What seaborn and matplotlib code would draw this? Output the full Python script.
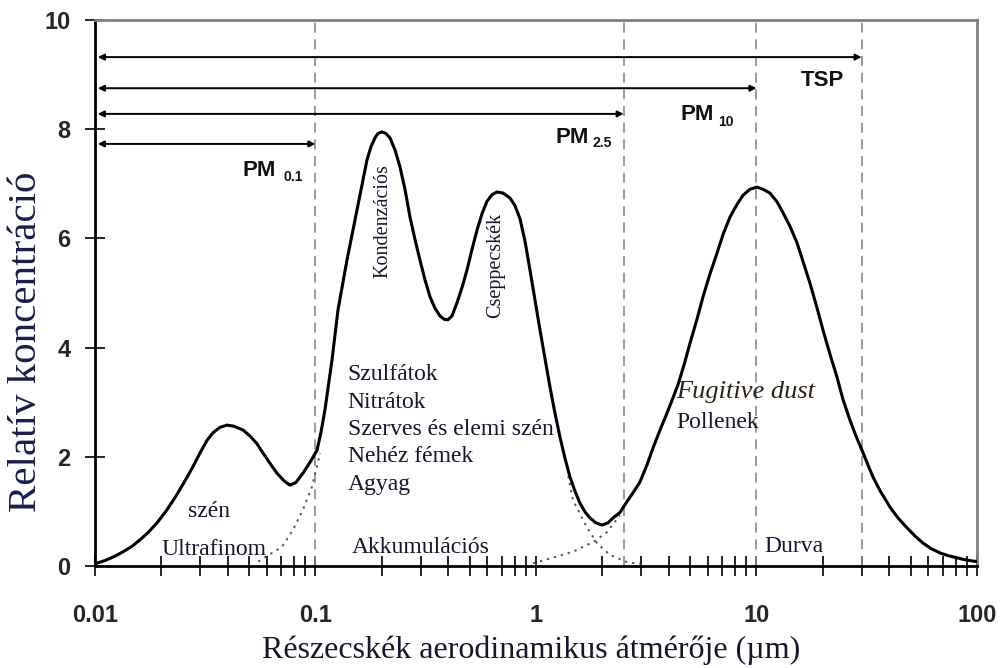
import numpy as np
import pandas as pd
import matplotlib
matplotlib.use("Agg")
import matplotlib.pyplot as plt
import seaborn as sns
from matplotlib.ticker import LogLocator, NullFormatter

# total size distribution (diameter in um, relative concentration)
diameter = [0.0100, 0.01110, 0.01232, 0.01340, 0.01472, 0.01600, 0.01739, 0.01911, 0.02121, 0.02354,
            0.02560, 0.02782, 0.02994, 0.03221, 0.03428, 0.03689, 0.03969, 0.04270, 0.04690, 0.05046,
            0.05428, 0.05779, 0.06218, 0.06689, 0.07197, 0.07661, 0.08155, 0.08775, 0.09443, 0.1016,
            0.1059, 0.1104, 0.1188, 0.1265, 0.1389, 0.1542, 0.1713, 0.1785, 0.1861, 0.1920,
            0.2002, 0.2088, 0.2177, 0.2294, 0.2416, 0.2546, 0.2683, 0.2827, 0.2978, 0.3138,
            0.3307, 0.3483, 0.3669, 0.3826, 0.3990, 0.4159, 0.4383, 0.4618, 0.4866, 0.5127,
            0.5401, 0.5690, 0.5995, 0.6317, 0.6654, 0.7084, 0.7622, 0.8030, 0.8462, 0.8916,
            0.9393, 0.9896, 1.043, 1.098, 1.157, 1.219, 1.285, 1.354, 1.426, 1.503,
            1.583, 1.668, 1.758, 1.871, 1.992, 2.121, 2.235, 2.404, 2.586, 2.754,
            2.963, 3.187, 3.393, 3.651, 3.928, 4.182, 4.406, 4.691, 4.994, 5.373,
            5.721, 6.154, 6.622, 7.050, 7.583, 8.158, 8.687, 9.344, 10.05, 10.70,
            11.51, 12.39, 13.19, 14.19, 15.27, 16.25, 17.48, 18.81, 20.03, 21.54,
            23.18, 24.68, 26.55, 28.27, 30.10, 32.04, 33.76, 36.32, 40.31, 43.83,
            48.14, 52.34, 56.90, 61.86, 67.96, 73.88, 81.17, 89.16, 100.0]
concentration = [0.04, 0.10, 0.18, 0.26, 0.36, 0.48, 0.61, 0.79, 1.03, 1.31,
                 1.56, 1.82, 2.07, 2.30, 2.44, 2.54, 2.58, 2.56, 2.49, 2.38,
                 2.24, 2.07, 1.88, 1.70, 1.56, 1.48, 1.53, 1.70, 1.90, 2.12,
                 2.45, 2.86, 3.77, 4.69, 5.60, 6.52, 7.44, 7.68, 7.84, 7.92,
                 7.95, 7.92, 7.84, 7.62, 7.31, 6.90, 6.39, 5.98, 5.60, 5.24,
                 4.93, 4.72, 4.58, 4.52, 4.51, 4.58, 4.82, 5.10, 5.42, 5.80,
                 6.15, 6.45, 6.68, 6.80, 6.85, 6.83, 6.74, 6.60, 6.36, 5.95,
                 5.42, 4.87, 4.32, 3.80, 3.28, 2.80, 2.36, 1.97, 1.63, 1.37,
                 1.15, 0.99, 0.88, 0.79, 0.75, 0.79, 0.88, 0.98, 1.18, 1.34,
                 1.54, 1.85, 2.16, 2.49, 2.80, 3.08, 3.32, 3.68, 4.08, 4.52,
                 4.93, 5.35, 5.73, 6.07, 6.39, 6.62, 6.79, 6.90, 6.94, 6.90,
                 6.83, 6.67, 6.47, 6.22, 5.92, 5.58, 5.18, 4.73, 4.32, 3.88,
                 3.46, 3.05, 2.67, 2.38, 2.12, 1.85, 1.63, 1.38, 1.08, 0.88,
                 0.70, 0.55, 0.42, 0.32, 0.24, 0.19, 0.15, 0.11, 0.08]

# dotted single-mode tails
accum_left_x = [0.055, 0.059, 0.0705, 0.079, 0.0877, 0.0964, 0.105]
accum_left_y = [0.08, 0.16, 0.35, 0.66, 1.03, 1.45, 2.07]
accum_right_x = [1.40, 1.47, 1.70, 1.89, 2.17, 2.59, 2.96]
accum_right_y = [1.65, 1.21, 0.71, 0.42, 0.20, 0.07, 0.04]
coarse_left_x = [0.97, 1.19, 1.47, 1.82, 2.10, 2.40]
coarse_left_y = [0.05, 0.15, 0.26, 0.44, 0.62, 0.93]

# size cut-offs (PM0.1, PM2.5, PM10, TSP) and the height of their arrows
cutoffs = [0.1, 2.5, 10, 30]
arrow_levels = [7.73, 8.28, 8.75, 9.32]

x_ticks = [0.01, 0.1, 1, 10, 100]
x_labels = ["0.01", "0.1", "1", "10", "100"]
y_ticks = [0, 2, 4, 6, 8, 10]

curve = pd.DataFrame({"d": diameter, "c": concentration})

sns.set_style("ticks")
plt.rcParams['font.family'] = ['Liberation Serif', 'DejaVu Serif']

fig = plt.figure(figsize=(10.01, 6.68), dpi=100)
ax = fig.add_axes([0.0949, 0.1527, 0.8811, 0.8174])

sns.lineplot(data=curve, x="d", y="c", sort=False, color="black", lw=2.2, ax=ax, zorder=4)
for xs, ys in [(accum_left_x, accum_left_y), (accum_right_x, accum_right_y),
               (coarse_left_x, coarse_left_y)]:
    ax.plot(xs, ys, color="#555555", lw=1.4, ls=(0, (1.2, 2.5)), zorder=3)

ax.vlines(cutoffs, 0, 10, colors="#8a8a8a", linestyles=(0, (6, 4)), lw=1.2, zorder=2)

for end, lev in zip(cutoffs, arrow_levels):
    ax.annotate("", xy=(end, lev), xytext=(0.0103, lev),
                arrowprops=dict(arrowstyle="<|-|>", color="black", lw=1.4,
                                mutation_scale=9, shrinkA=0, shrinkB=0))

ax.set_xscale("log")
ax.set_xlim(0.01, 100)
ax.set_ylim(0, 10)
ax.set_xticks(x_ticks)
ax.set_xticklabels(x_labels)
ax.set_yticks(y_ticks)
ax.xaxis.set_minor_locator(LogLocator(base=10, subs=np.arange(2, 10)))
ax.xaxis.set_minor_formatter(NullFormatter())
ax.tick_params(which="both", direction="inout", length=15, width=1.2, color="black")
ax.tick_params(axis="x", pad=20)
ax.tick_params(axis="y", pad=10)
for lab in ax.get_xticklabels() + ax.get_yticklabels():
    lab.set_fontfamily("Liberation Sans")
    lab.set_fontweight("bold")
    lab.set_fontsize(17)
ax.set_xlabel("")
ax.set_ylabel("")

for side in ["left", "bottom"]:
    ax.spines[side].set_color("black")
    ax.spines[side].set_linewidth(2)
for side in ["top", "right"]:
    ax.spines[side].set_visible(True)
    ax.spines[side].set_color("#808080")
    ax.spines[side].set_linewidth(2)

# PM labels
bold = dict(family="Liberation Sans", fontweight="bold", color="#111111", va="center")
ax.text(0.0469, 7.25, "PM", fontsize=16, **bold)
ax.text(0.0713, 7.12, "0.1", fontsize=10, **bold)
ax.text(1.23, 7.84, "PM", fontsize=16, **bold)
ax.text(1.80, 7.75, "2.5", fontsize=10, **bold)
ax.text(4.52, 8.26, "PM", fontsize=16, **bold)
ax.text(6.68, 8.13, "10", fontsize=10, **bold)
ax.text(15.9, 8.90, "TSP", fontsize=16, **bold)

ink = "#16162c"
ax.text(0.0329, 0.99, "szén", fontsize=17, color=ink, ha="center", va="center")
ax.text(0.0201, 0.30, "Ultrafinom", fontsize=17, color=ink, va="center")
ax.text(0.1465, 0.33, "Akkumulációs", fontsize=17, color=ink, va="center")
ax.text(10.9, 0.35, "Durva", fontsize=17, color=ink, va="center")
for i, s in enumerate(["Szulfátok", "Nitrátok", "Szerves és elemi szén", "Nehéz fémek", "Agyag"]):
    ax.text(0.140, 3.5 - 0.5 * i, s, fontsize=17, color=ink, va="center")
ax.text(4.30, 3.19, "Fugitive dust", fontsize=19, style="italic", color="#2a2218", va="center")
ax.text(4.35, 2.62, "Pollenek", fontsize=17, color=ink, va="center")
ax.text(0.2025, 6.32, "Kondenzációs", fontsize=14.5, color=ink, rotation=90, ha="center", va="center")
ax.text(0.659, 5.51, "Cseppecskék", fontsize=14.5, color=ink, rotation=90, ha="center", va="center")

fig.text(27 / 1001, 1 - 342 / 668, "Relatív koncentráció", fontsize=29.5, color="#1a1f4a",
         rotation=90, ha="center", va="center")
fig.text(531 / 1001, 1 - 650 / 668, "Részecskék aerodinamikus átmérője (µm)", fontsize=23,
         color=ink, ha="center", va="center")

fig.savefig("out.png", dpi=100)
